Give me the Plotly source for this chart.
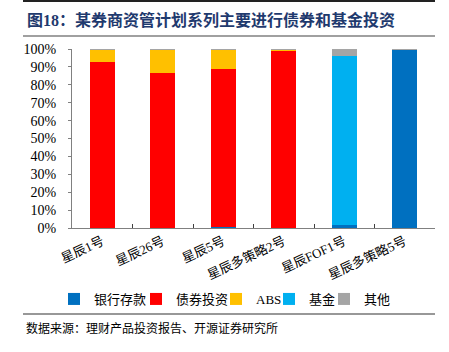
import plotly.graph_objects as go

categories = ["星辰1号", "星辰26号", "星辰5号", "星辰多策略2号", "星辰FOF1号", "星辰多策略5号"]
bank = [0.0, 0.0, 0.3, 0.0, 1.5, 99.8]
bond = [93.0, 86.6, 88.7, 99.3, 0.0, 0.0]
abs_ = [6.8, 12.9, 10.5, 0.2, 0.0, 0.0]
fund = [0.0, 0.0, 0.0, 0.0, 94.8, 0.0]
other = [0.2, 0.5, 0.5, 0.5, 3.7, 0.2]

series = [
    ("银行存款", bank, "#0070C0"),
    ("债券投资", bond, "#FF0000"),
    ("ABS", abs_, "#FFC000"),
    ("基金", fund, "#00B0F0"),
    ("其他", other, "#A5A5A5"),
]
# left pixel where each legend item's text starts
legend_text_x = [93, 175, 255, 308, 363]

FONT = "Liberation Serif, Noto Sans CJK SC, serif"

L, R, T, B = 72, 14, 49, 124
W, H = 449, 352
pw, ph = W - L - R, H - T - B

def px(x):
    return (x - L) / pw

def py(y):
    return (H - B - y) / ph

fig = go.Figure()
legends = {}
for i, (name, vals, color) in enumerate(series):
    key = "legend" if i == 0 else f"legend{i + 1}"
    fig.add_trace(go.Bar(x=categories, y=vals, name=name, marker_color=color,
                         marker_line_width=0, width=0.41, legend=key))
    legends[key] = dict(orientation="h", xref="container", yref="paper",
                        x=(legend_text_x[i] - 39) / W, xanchor="left",
                        y=py(299), yanchor="middle", font=dict(size=13),
                        itemwidth=30, bgcolor="rgba(0,0,0,0)")

fig.update_layout(
    width=W, height=H, barmode="stack",
    margin=dict(l=L, r=R, t=T, b=B, autoexpand=False),
    plot_bgcolor="white", paper_bgcolor="white",
    font=dict(family=FONT, size=13, color="#000000"),
    showlegend=True,
    xaxis=dict(showline=True, linecolor="#808080", linewidth=1, ticks="inside",
               tickson="boundaries", ticklen=4, tickcolor="#404040",
               tickangle=-25, tickfont=dict(size=13)),
    yaxis=dict(range=[0, 100], dtick=10, ticksuffix="%", showline=True,
               linecolor="#808080", linewidth=1, ticks="outside", ticklen=3,
               tickcolor="#808080", showgrid=False, zeroline=False,
               ticklabelstandoff=9, tickfont=dict(size=14)),
    shapes=[
        dict(type="line", xref="paper", yref="paper", x0=px(23), x1=px(435),
             y0=py(1), y1=py(1), line=dict(color="#222222", width=2)),
        dict(type="line", xref="paper", yref="paper", x0=px(23), x1=px(435),
             y0=py(36), y1=py(36), line=dict(color="#A0A0A0", width=2)),
        dict(type="line", xref="paper", yref="paper", x0=px(23), x1=px(435),
             y0=py(314), y1=py(314), line=dict(color="#333333", width=1.2)),
    ],
    annotations=[
        dict(text="<b>图18：某券商资管计划系列主要进行债券和基金投资</b>", xref="paper", yref="paper",
             x=px(25), y=py(20), xanchor="left", yanchor="middle", showarrow=False,
             font=dict(size=16, color="#1F3A6E", family=FONT)),
        dict(text="数据来源：理财产品投资报告、开源证券研究所", xref="paper", yref="paper",
             x=px(24), y=py(328), xanchor="left", yanchor="middle", showarrow=False,
             font=dict(size=12, color="#000000", family=FONT)),
    ],
    **legends,
)

fig.write_html("out.html")
